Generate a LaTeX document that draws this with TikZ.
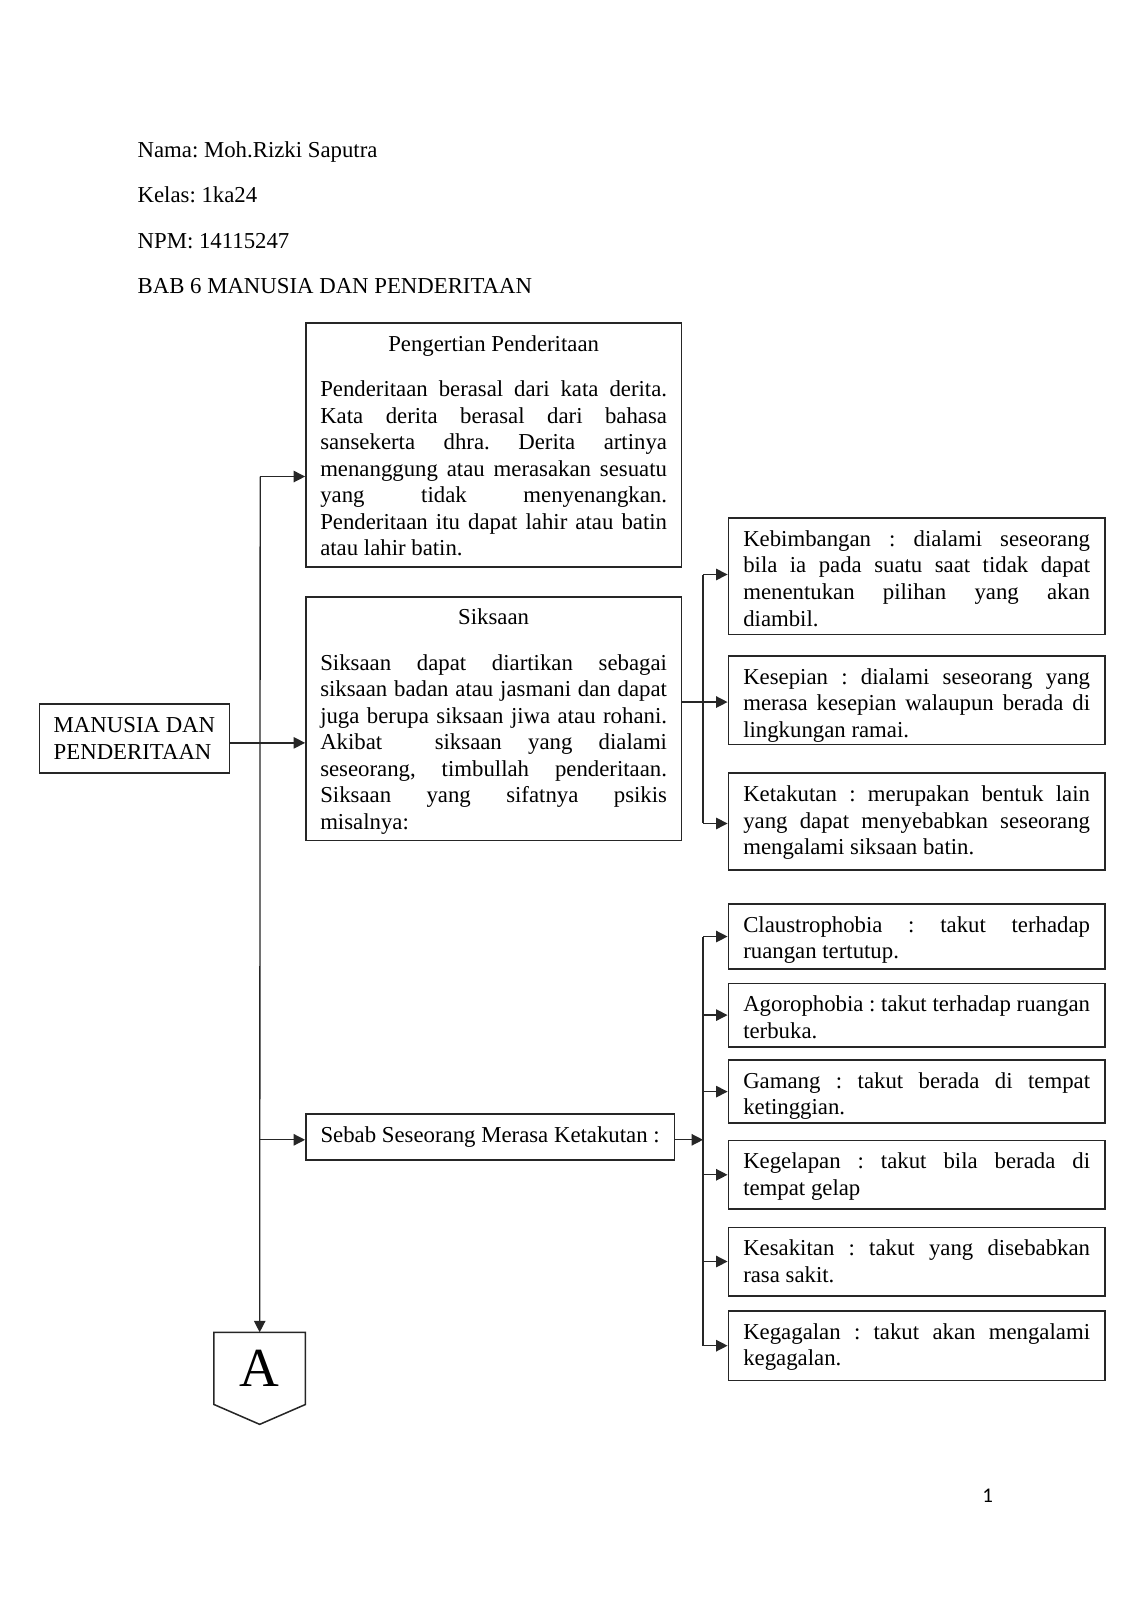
\documentclass[tikz,border=0pt]{standalone}
\usepackage{fontspec}
\setmainfont{Liberation Serif}
\newfontfamily\pagenumfont{Carlito}
\usetikzlibrary{arrows.meta,calc}
\frenchspacing
\newcommand\jl[1]{\makebox[182.6pt][s]{\spaceskip=0.25em plus 1fil minus 0.08em\relax #1}}
\newcommand\ttl[1]{\makebox[182.6pt]{#1}}
\newcommand\tb[2]{\parbox[c][#1][t]{182.6pt}{\strut #2}}
\definecolor{ink}{gray}{0.15}
\begin{document}
\begin{tikzpicture}[x=0.5373pt,y=-0.5373pt,
  txt/.style={font=\fontsize{12}{13.97}\selectfont},
  box/.style={txt, draw=ink, line width=0.85pt, inner ysep=5.1pt, anchor=north west},
  bigbox/.style={box, inner xsep=7.55pt},
  rbox/.style={box, inner xsep=7.85pt},
  sbox/.style={txt, draw=ink, line width=0.85pt, inner sep=0pt, anchor=north west, align=left},
  head/.style={txt, anchor=base west, inner sep=0pt},
  conn/.style={draw=ink, line width=0.7pt},
  arr/.style={conn, -{Triangle[length=6pt,width=6pt]}}]
\useasboundingbox (0,0) rectangle (1108,1568);

% header
\node[head] (h1) at (134.5,154.5) {Nama: Moh.Rizki Saputra};
\node[head] (h2) at (134.5,198.2) {Kelas: 1ka24};
\node[head] (h3) at (134.5,243.3) {NPM: 14115247};
\node[head] (h4) at (134.5,287.3) {BAB 6 MANUSIA DAN PENDERITAAN};

% left column
\node[bigbox] (P) at (299,316) {\tb{118.2pt}{\ttl{Pengertian Penderitaan}\\[9.8pt]
\jl{Penderitaan berasal dari kata derita.}\\
\jl{Kata derita berasal dari bahasa}\\
\jl{sansekerta dhra. Derita artinya}\\
\jl{menanggung atau merasakan sesuatu}\\
\jl{yang tidak menyenangkan.}\\
\jl{Penderitaan itu dapat lahir atau batin}\\
atau lahir batin.}};

\node[bigbox] (S) at (299,584) {\tb{118.2pt}{\ttl{Siksaan}\\[9.8pt]
\jl{Siksaan dapat diartikan sebagai}\\
\jl{siksaan badan atau jasmani dan dapat}\\
\jl{juga berupa siksaan jiwa atau rohani.}\\
\jl{Akibat\ \ siksaan yang dialami}\\
\jl{seseorang, timbullah penderitaan.}\\
\jl{Siksaan yang sifatnya psikis}\\
misalnya:}};

\node[sbox, minimum width=99.9pt, minimum height=36.5pt] (M) at (38,689) {MANUSIA DAN\\PENDERITAAN};

\node[sbox, minimum width=194pt, minimum height=24.2pt] (B) at (299,1091) {Sebab Seseorang Merasa Ketakutan :};

% right column, upper
\node[rbox] (K1) at (713,507) {\tb{51.1pt}{\jl{Kebimbangan : dialami seseorang}\\
\jl{bila ia pada suatu saat tidak dapat}\\
\jl{menentukan pilihan yang akan}\\
diambil.}};
\node[rbox] (K2) at (713,642) {\tb{36.5pt}{\jl{Kesepian : dialami seseorang yang}\\
\jl{merasa kesepian walaupun berada di}\\
lingkungan ramai.}};
\node[rbox] (K3) at (713,757) {\tb{40.8pt}{\jl{Ketakutan : merupakan bentuk lain}\\
\jl{yang dapat menyebabkan seseorang}\\
mengalami siksaan batin.}};

% right column, lower
\node[rbox] (F1) at (713,885) {\tb{24.2pt}{\jl{Claustrophobia : takut terhadap}\\ruangan tertutup.}};
\node[rbox] (F2) at (713,963) {\tb{23.1pt}{\jl{Agorophobia : takut terhadap ruangan}\\terbuka.}};
\node[rbox] (F3) at (713,1038) {\tb{23.1pt}{\jl{Gamang : takut berada di tempat}\\ketinggian.}};
\node[rbox] (F4) at (713,1117) {\tb{25.8pt}{\jl{Kegelapan : takut bila berada di}\\tempat gelap}};
\node[rbox] (F5) at (713,1202) {\tb{25.8pt}{\jl{Kesakitan : takut yang disebabkan}\\rasa sakit.}};
\node[rbox] (F6) at (713,1284) {\tb{26.3pt}{\jl{Kegagalan : takut akan mengalami}\\kegagalan.}};

% off-page connector A
\node[inner sep=0pt, minimum width=47.8pt, minimum height=37.6pt,
      font=\fontsize{29}{30}\selectfont] (A) at (254.5,1341) {A};
\draw[draw=ink, line width=0.8pt] (A.north west) -- (A.north east) -- (A.south east)
  -- ($(A.south)+(0,19.5)$) -- (A.south west) -- cycle;

% page number
\node[font=\pagenumfont\fontsize{11}{13}\selectfont, inner sep=0pt] (pg) at (968,1466) {1};

% connectors
\coordinate (tTop) at (255,467);
\coordinate (bus) at (689,0);
\draw[arr] (tTop) -- (A.north);
\draw[arr] (tTop) -- (tTop -| P.west);
\draw[arr] (M.east |- 0,728) -- (S.west |- 0,728);
\draw[arr] (tTop |- 0,1117) -- (B.west |- 0,1117);

\draw[arr] (S.east |- 0,688) -- (K2.west |- 0,688);
\draw[conn] (bus |- 0,563) -- (bus |- 0,807);
\draw[arr] (bus |- 0,563) -- (K1.west |- 0,563);
\draw[arr] (bus |- 0,807) -- (K3.west |- 0,807);

\draw[arr] (B.east |- 0,1117) -- (bus |- 0,1117);
\draw[conn] (bus |- F1.west) -- (bus |- F6.west);
\foreach \f in {F1,F2,F3,F4,F5,F6}{
  \draw[arr] (bus |- \f.west) -- (\f.west);
}
\end{tikzpicture}
\end{document}
